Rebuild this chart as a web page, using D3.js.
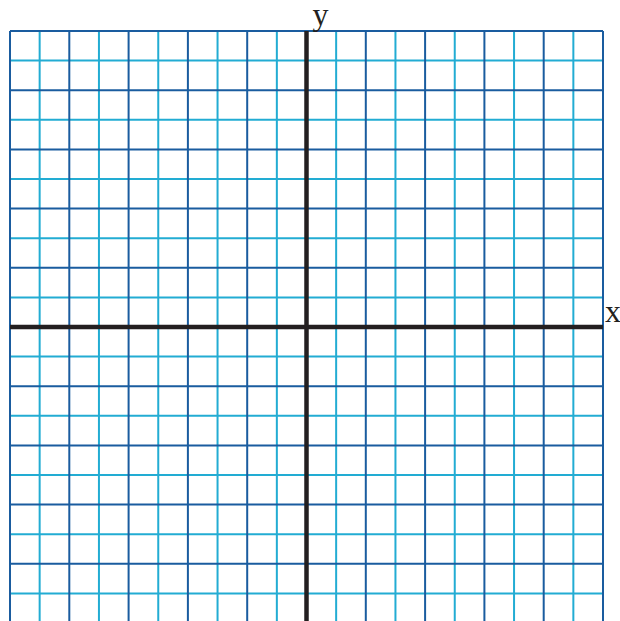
<!DOCTYPE html>
<html>
<head>
<meta charset="utf-8">
<script src="https://cdn.jsdelivr.net/npm/d3@7"></script>
<style>
  body { margin: 0; background: #fff; }
  svg { display: block; }
</style>
</head>
<body>
<div id="chart"></div>
<script>
// grid values, one line per integer from -10 to 10
const gridValues = d3.range(-10, 11);
const axisLabels = ["x", "y"];

const width = 620, height = 621;
const margin = { top: 31, right: 17, bottom: -2, left: 10 };

const svg = d3.select("#chart")
  .append("svg")
    .attr("width", width)
    .attr("height", height);

const x = d3.scaleLinear().domain([-10, 10]).range([margin.left, width - margin.right]);
const y = d3.scaleLinear().domain([10, -10]).range([margin.top, height - margin.bottom]);

const darkBlue = "#1a5c9f", lightBlue = "#22acd3";

// light lines first, dark ones over them
const minor = gridValues.filter(d => Math.abs(d) % 2 === 1);
const major = gridValues.filter(d => d % 2 === 0);

[[minor, lightBlue], [major, darkBlue]].forEach(([vals, color]) => {
  const g = svg.append("g").attr("stroke", color).attr("stroke-width", 2);
  g.selectAll(".v")
    .data(vals)
    .enter().append("line")
      .attr("x1", d => x(d)).attr("x2", d => x(d))
      .attr("y1", y(10)).attr("y2", y(-10));
  g.selectAll(".h")
    .data(vals)
    .enter().append("line")
      .attr("y1", d => y(d)).attr("y2", d => y(d))
      .attr("x1", x(-10)).attr("x2", x(10));
});

// axes
const axes = svg.append("g").attr("stroke", "#231f20").attr("stroke-width", 4.5);
axes.append("line")
  .attr("x1", x(-10)).attr("x2", x(10))
  .attr("y1", y(0)).attr("y2", y(0));
axes.append("line")
  .attr("x1", x(0)).attr("x2", x(0))
  .attr("y1", y(10)).attr("y2", y(-10));

svg.append("text")
  .attr("x", x(10) + 2)
  .attr("y", y(0) - 5)
  .attr("font-family", "Liberation Serif, serif")
  .attr("font-size", 32)
  .attr("fill", "#231f20")
  .text(axisLabels[0]);

svg.append("text")
  .attr("x", x(0) + 6)
  .attr("y", y(10) - 6)
  .attr("font-family", "Liberation Serif, serif")
  .attr("font-size", 32)
  .attr("fill", "#231f20")
  .text(axisLabels[1]);
</script>
</body>
</html>
